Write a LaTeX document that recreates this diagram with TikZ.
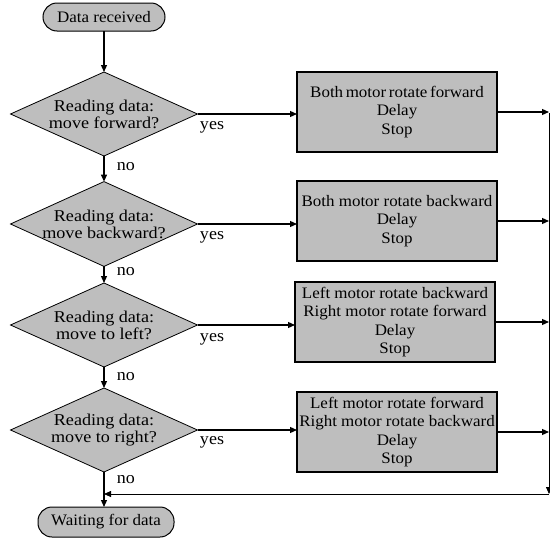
\documentclass[tikz,border=0pt]{standalone}
\usepackage{fontspec}
\setmainfont{Liberation Serif}
\newfontfamily\widefont[FakeStretch=1.06]{Liberation Serif}
\newfontfamily\widerfont[FakeStretch=1.1]{Liberation Serif}
\usetikzlibrary{shapes.geometric,arrows.meta}
\definecolor{boxgray}{RGB}{190,190,190}
\begin{document}
\begin{tikzpicture}[x=1pt,y=-1pt,
  every node/.style={inner sep=0pt,outer sep=0pt},
  pill/.style={rectangle,rounded corners=14pt},
  term/.style={pill,draw=black,line width=1pt,fill=boxgray,minimum width=122pt,minimum height=28pt,font=\widefont\fontsize{16}{18}\selectfont},
  decide/.style={diamond,draw=black,line width=0.8pt,fill=boxgray,minimum width=187pt,minimum height=84pt,aspect=2.2,align=center,font=\widerfont\fontsize{16.5}{17}\selectfont},
  action/.style={rectangle,draw=black,line width=1.4pt,fill=boxgray,minimum width=200pt,minimum height=80pt,align=center,font=\widefont\fontsize{16}{18.3}\selectfont},
  lab/.style={font=\widefont\fontsize{17}{18}\selectfont},
  flow/.style={line width=1.2pt,-{Triangle[length=7pt,width=6pt]}},
  thin/.style={line width=0.8pt},
]
\useasboundingbox (0,0) rectangle (550,541);
\node[term] (start) at (104,17) {Data received};
\node[decide] (d1) at (104,114) {Reading data:\\move forward?};
\node[decide] (d2) at (104,224) {Reading data:\\move backward?};
\node[decide] (d3) at (104,325) {Reading data:\\move to left?};
\node[decide] (d4) at (104,430) {Reading data:\\move to right?};
\node[term, minimum width=136pt, minimum height=30pt] (stop) at (106,522) {Waiting for data};

\node[action] (b1) at (397,112) {{\spaceskip=2.6pt Both motor rotate forward}\\Delay\\Stop};
\node[action] (b2) at (397,221) {Both motor rotate backward\\Delay\\Stop};
\node[action] (b3) at (395,322) {Left motor rotate backward\\Right motor rotate forward\\Delay\\Stop};
\node[action] (b4) at (397,432) {Left motor rotate forward\\Right motor rotate backward\\Delay\\Stop};

\coordinate (rtop) at (549,113);
\coordinate (rbot) at (549,494);

\draw[flow] (start) -- (d1);
\draw[flow] (d1) -- (d2);
\draw[flow] (d2) -- (d3);
\draw[flow] (d3) -- (d4);
\draw[flow] (d4.south) -- (d4.south |- stop.north);

\draw[flow] (d1.east) -- (d1.east -| b1.west);
\draw[flow] (d2.east) -- (d2.east -| b2.west);
\draw[flow] (d3.east) -- (d3.east -| b3.west);
\draw[flow] (d4.east) -- (d4.east -| b4.west);

\draw[flow] (b1.east) -- (b1.east -| rtop);
\draw[flow] (b2.east) -- (b2.east -| rtop);
\draw[flow] (b3.east) -- (b3.east -| rtop);
\draw[flow] (b4.east) -- (b4.east -| rtop);

\draw[thin,-{Triangle[length=7pt,width=6pt]}] (rtop) -- (rbot);
\draw[thin,-{Triangle[length=7pt,width=6pt]}] (rbot) -- (rbot -| d4.south);

\node[lab] (y1) at (212,127) {yes};
\node[lab] (y2) at (212,237) {yes};
\node[lab] (y3) at (212,339) {yes};
\node[lab] (y4) at (212,442) {yes};
\node[lab] (n1) at (126,167) {no};
\node[lab] (n2) at (126,272) {no};
\node[lab] (n3) at (126,377) {no};
\node[lab] (n4) at (126,480) {no};
\end{tikzpicture}
\end{document}
